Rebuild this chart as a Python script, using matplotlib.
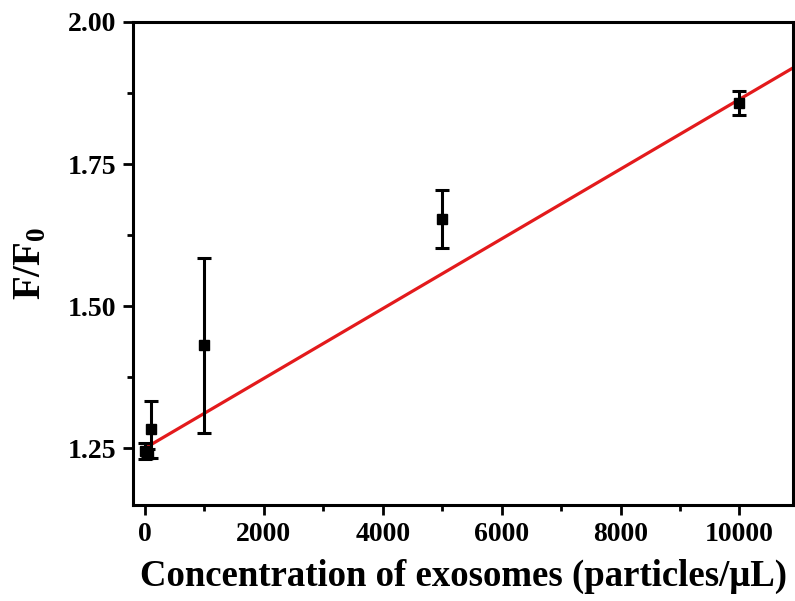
# calibration curve: F/F0 vs exosome concentration

import matplotlib
matplotlib.use("Agg")
import numpy as np
import matplotlib.pyplot as plt
from matplotlib.ticker import MultipleLocator

plt.rcParams["font.family"] = "Liberation Serif"
plt.rcParams["font.weight"] = "bold"
plt.rcParams["mathtext.fontset"] = "custom"
plt.rcParams["mathtext.rm"] = "Liberation Serif:bold"
plt.rcParams["mathtext.bf"] = "Liberation Serif:bold"

conc = [10, 50, 100, 1000, 5000, 10000]
ratio = [1.245, 1.24, 1.283, 1.431, 1.653, 1.857]
err = [0.014, 0.008, 0.05, 0.154, 0.051, 0.021]

# linear fit shown in red
fit_intercept = 1.25
fit_slope = 6.14e-5
fit_x = [10, 10900]

fig = plt.figure(figsize=(7.95, 6.01), dpi=100)
ax = fig.add_axes([0.1673, 0.1597, 0.8302, 0.8037])

fx = np.array(fit_x)
ax.plot(fx, fit_intercept + fit_slope * fx, color="#e31a1c", lw=2.3, zorder=2)

ax.errorbar(conc, ratio, yerr=err, fmt="s", color="black", ms=7,
            elinewidth=2.2, capsize=5, capthick=2.2, zorder=3)

ax.set_xlim(-200, 10900)
ax.set_ylim(1.15, 2.0)
ax.xaxis.set_major_locator(MultipleLocator(2000))
ax.xaxis.set_minor_locator(MultipleLocator(1000))
ax.yaxis.set_major_locator(MultipleLocator(0.25))
ax.yaxis.set_minor_locator(MultipleLocator(0.125))
ax.yaxis.set_major_formatter(matplotlib.ticker.FormatStrFormatter("%.2f"))

for s in ax.spines.values():
    s.set_linewidth(2.2)
ax.tick_params(which="major", direction="out", length=7, width=2, labelsize=20, pad=5)
ax.tick_params(which="minor", direction="out", length=4, width=2)
ax.tick_params(top=False, right=False)

ax.set_xlabel("Concentration of exosomes (particles/μL)", fontsize=26.5,
              fontweight="bold", labelpad=9)
ax.set_ylabel(r"$\mathbf{F/F_0}$", fontsize=28, labelpad=13)

fig.savefig("out.png", dpi=100)
